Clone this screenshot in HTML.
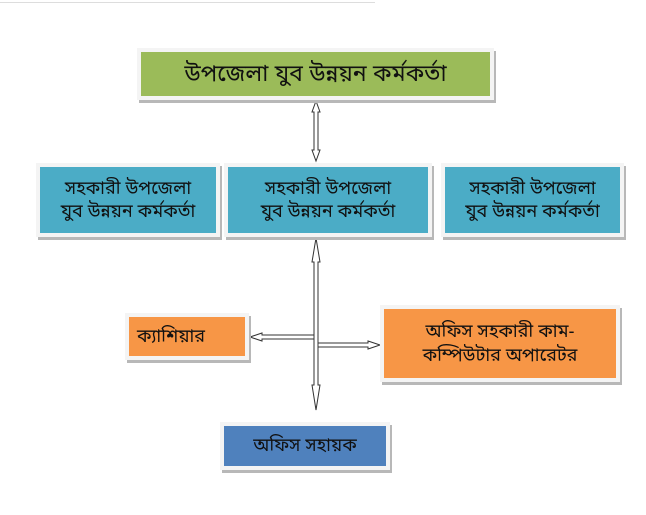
<!DOCTYPE html>
<html><head><meta charset="utf-8"><style>
body{margin:0;background:#fff;width:646px;height:515px;overflow:hidden;position:relative;font-family:"Liberation Sans","Noto Sans Bengali","Vrinda",sans-serif;}
.b{position:absolute;box-sizing:border-box;border:4px solid #f4f4f4;box-shadow:2px 3px 0 #b8b8b8;display:flex;align-items:center;justify-content:center;text-align:center;color:#111;line-height:1.3;}
</style></head><body>
<div style="position:absolute;left:0;top:2px;width:375px;height:1px;background:#ddd"></div>
<svg width="646" height="515" style="position:absolute;left:0;top:0" fill="#fff" stroke="#333" stroke-width="1">
<path d="M316,101 L320,112 L318,112 L318,150 L320,150 L316,161 L312,150 L314,150 L314,112 L312,112 Z"/>
<path d="M316,238 L320,262 L318,262 L318,385 L320,385 L316,410 L312,385 L314,385 L314,262 L312,262 Z"/>
<path d="M250,337 L262,333 L262,335 L314,335 L314,339 L262,339 L262,341 Z"/>
<path d="M380,345 L368,341 L368,343 L318,343 L318,347 L368,347 L368,349 Z"/>
</svg>
<div class="b" style="left:137px;top:48px;width:357px;height:52px;background:#9bbb59;font-size:23px">উপজেলা যুব উন্নয়ন কর্মকর্তা</div>
<div class="b" style="left:36px;top:163px;width:184px;height:74px;background:#4bacc6;font-size:18px">সহকারী উপজেলা<br>যুব উন্নয়ন কর্মকর্তা</div>
<div class="b" style="left:224px;top:163px;width:208px;height:74px;background:#4bacc6;font-size:18px">সহকারী উপজেলা<br>যুব উন্নয়ন কর্মকর্তা</div>
<div class="b" style="left:441px;top:163px;width:183px;height:74px;background:#4bacc6;font-size:18px">সহকারী উপজেলা<br>যুব উন্নয়ন কর্মকর্তা</div>
<div class="b" style="left:125px;top:313px;width:124px;height:47px;background:#f79646;font-size:18px;justify-content:flex-start;padding-left:8px">ক্যাশিয়ার</div>
<div class="b" style="left:380px;top:305px;width:240px;height:77px;background:#f79646;font-size:18px">অফিস সহকারী কাম-<br>কম্পিউটার অপারেটর</div>
<div class="b" style="left:220px;top:422px;width:170px;height:48px;background:#4f81bd;font-size:18px">অফিস সহায়ক</div>
</body></html>
